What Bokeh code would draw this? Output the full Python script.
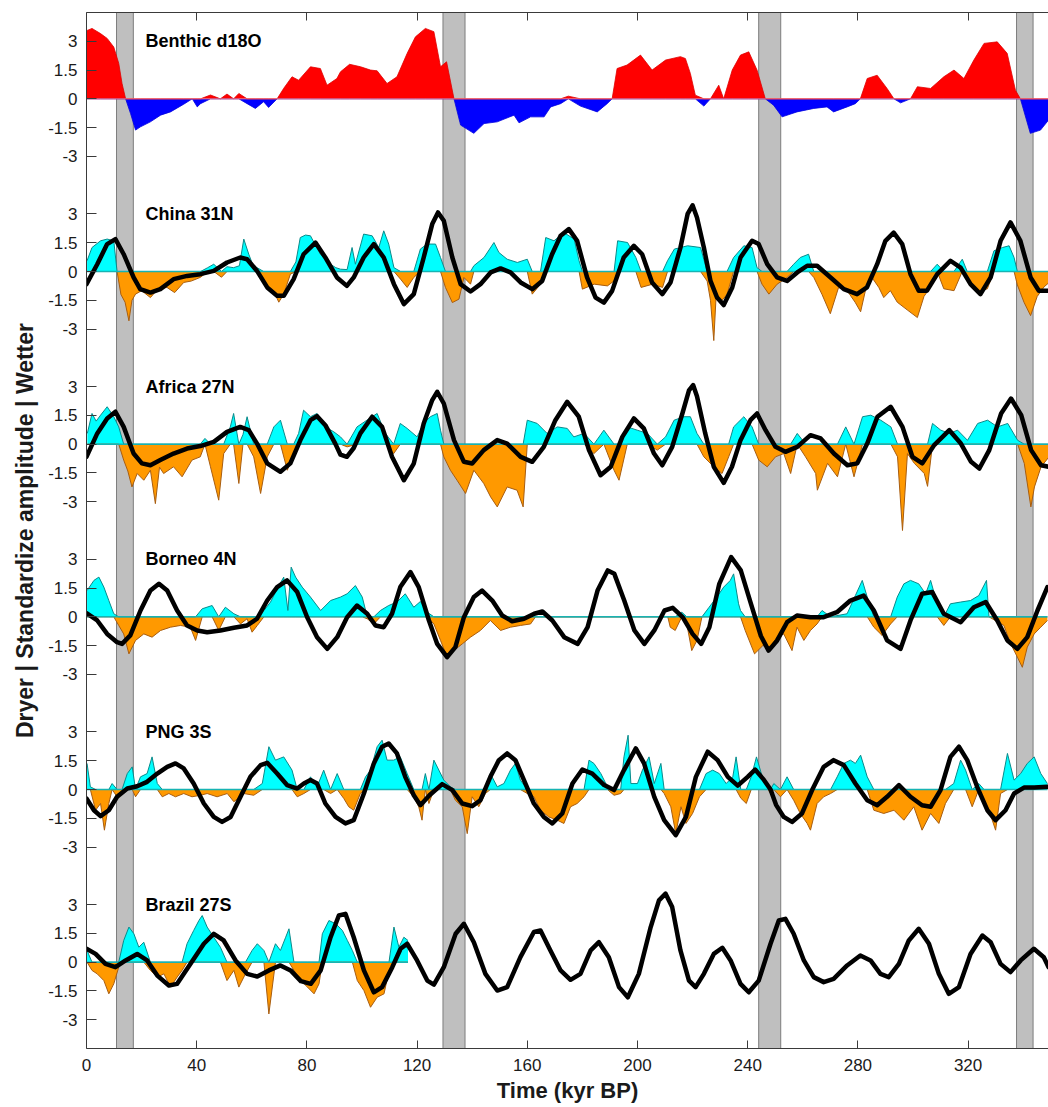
import numpy as np
from bokeh.plotting import figure
from bokeh.models import Range1d, FixedTicker, LinearAxis, BoxAnnotation, Label, CustomLabelingPolicy
from bokeh.embed import file_html
from bokeh.resources import INLINE

# ---------------- data ----------------
x_ticks = [0, 40, 80, 120, 160, 200, 240, 280, 320]
y_tick_local = [-3, -1.5, 0, 1.5, 3]
y_tick_text = ["-3", "-1.5", "0", "1.5", "3"]
panel_names = ["Benthic d18O", "China 31N", "Africa 27N", "Borneo 4N", "PNG 3S", "Brazil 27S"]
panel_offsets = [45, 36, 27, 18, 9, 0]
band_start = [10.9, 129.4, 244.0, 337.6]
band_end = [17.0, 137.4, 252.0, 343.6]

benthic = [(0, 3.55), (2.0, 3.67), (5.1, 3.4), (7.5, 3.15), (9.9, 2.7), (11.7, 1.85), (12.9, 0.8), (14.2, 0),
    (16.0, -0.77), (17.8, -1.63), (19.6, -1.46), (23.2, -1.2), (26.9, -0.85), (30.5, -0.68), (35.3, -0.28),
    (38.4, 0.0), (40.2, -0.42), (41.4, -0.25), (45, 0.2), (48.6, 0), (51, 0.25), (53.4, 0), (55.3, 0.28),
    (58.3, -0.25), (61.3, -0.5), (64.3, -0.15), (66.1, -0.45), (69.2, 0), (71.6, 0.55), (74.6, 1.15), (77, 0.97),
    (81.3, 1.67), (84.9, 1.58), (87.3, 0.71), (90.9, 1.06), (92.2, 1.41), (95.5, 1.8), (99.5, 1.67), (103.1, 1.5),
    (105.5, 1.46), (109.1, 0.8), (112.7, 1.15), (116.4, 2.37), (119.4, 3.23), (123, 3.67), (126.1, 3.5),
    (128.5, 1.67), (130.7, 1.93), (133.4, 0), (135.8, -1.37), (140.6, -1.8), (144.3, -1.29), (149.1, -1.2),
    (155.2, -0.85), (157, -1.25), (161.2, -0.94), (166.1, -0.94), (168.5, -0.42), (172.1, -0.25), (174.9, 0.14),
    (179.3, -0.38), (185.4, -0.68), (189, -0.25), (190.8, 0), (192.6, 1.58), (196.2, 1.76), (201.1, 2.28),
    (205.3, 1.5), (210.2, 2.02), (215.6, 2.2), (217.4, 2.1), (219.2, 1.32), (221, 0.19), (224.1, -0.38), (226.5, 0),
    (229.5, 0.71), (231.3, 0), (234.4, 1.5), (237.4, 2.28), (240.4, 2.45), (243.4, 1.5), (246.4, 0),
    (249.4, -0.33), (252.5, -0.94), (257.9, -0.68), (264, -0.5), (268.8, -0.42), (271.2, -0.68), (276.1, -0.42),
    (279.1, -0.25), (280.9, 0), (283.4, 1.06), (287, 1.23), (290.6, 0.54), (293.1, 0), (295.5, -0.21), (299.1, 0),
    (301.6, 0.63), (306.4, 0.54), (311.2, 1.15), (314.9, 1.5), (318.5, 1.06), (322.1, 2.02), (325.8, 2.89),
    (330.6, 2.97), (334.2, 2.37), (337.2, 0.45), (339, 0), (342.6, -1.8), (346.3, -1.63), (349.2, -1.11)]

china_rec = [(0.2, 0.56), (2.0, 1.25), (5.1, 1.6), (7.5, 1.69), (9.9, 1.6), (11.1, 0.0), (12.5, -1.2), (14.0, -1.6),
    (15.4, -2.57), (16.5, -1.5), (17.8, -1.18), (20.0, -1.0), (23.2, -1.36), (26.0, -0.9), (29.2, -0.83),
    (32.0, -1.1), (35.3, -0.57), (38.0, -0.5), (41.4, -0.3), (44.0, 0.2), (46.2, 0.38), (49.0, -0.3), (51.0, 0.25),
    (53.4, 0.2), (55.5, 0.3), (57.1, 1.69), (58.9, 0.9), (60.5, 0.3), (61.9, 0.2), (64.3, -0.4), (66.0, -0.8),
    (67.9, -1.0), (69.8, -1.6), (71.6, -1.18), (74.0, -0.14), (76.0, 0.5), (77.6, 1.77), (79.5, 1.9), (81.3, 1.86),
    (83.0, 1.4), (84.9, 0.9), (88.5, 0.38), (90.5, 0.2), (92.2, 0.12), (94.6, 0.1), (96.4, 1.25), (97.6, 0.38),
    (100.6, 1.95), (103.7, 1.86), (106.1, 1.25), (107.9, 2.12), (109.7, 1.43), (111.6, 0.2), (114, -0.4),
    (116.4, -0.83), (118.8, -0.31), (121.2, 1.17), (123.6, 1.43), (126.7, 1.43), (128.5, 0.73), (130.3, -0.83),
    (132.8, -1.62), (135.2, -1.44), (137, -0.31), (139.4, -0.66), (140.6, 0.3), (144.3, 0.73), (147.9, 1.51),
    (149.7, 0.99), (152.7, 0.64), (156.4, 0.47), (160, 0.64), (161.8, -1.18), (164.8, -0.66), (166.7, 1.77),
    (169.7, 1.6), (173.3, 2.03), (177, 1.69), (178.8, 0.56), (180, -0.92), (184.3, -0.66), (189.1, -0.75),
    (191.5, -0.49), (192.8, 1.6), (196.4, 1.51), (199.4, 0.73), (201.3, -0.83), (205.5, -0.66), (209.1, -0.83),
    (210.9, 0.56), (213.4, 1.17), (218.2, 1.34), (222.9, 1.25), (225.3, -0.5), (226.5, -1.5), (227.7, -3.6),
    (228.5, -1.4), (230.1, -1.6), (232.5, -1.2), (234.9, 0.73), (238.6, 1.34), (241.6, 1.25), (243.4, 0.2),
    (245.2, -0.66), (247.7, -1.18), (250.7, -0.66), (254.3, -0.31), (256.7, 0.38), (259.1, 0.73), (262.1, 0.9),
    (264, -0.31), (267, -1.2), (270, -2.2), (273, -0.83), (276.1, -1.0), (279, -1.6), (281, -2.1), (283, -0.83),
    (285.1, -0.31), (287.6, -0.83), (289.4, -1.36), (291.8, -1.0), (294.3, -1.6), (297.9, -2.0), (301.6, -2.4),
    (304, -1.3), (306.4, -0.8), (308.8, 0.38), (311.2, -0.9), (314.9, -1.0), (317.9, 0.64), (319.7, -0.5),
    (323.4, -1.1), (327, -0.9), (329.4, 1.08), (332.5, 1.25), (334.9, 1.34), (336.7, 0.73), (337.9, -0.7),
    (340.3, -1.6), (342.7, -2.3), (345.1, -1.3), (347.6, -0.8), (349.2, -0.6)]

china_fit = [(0, -0.66), (3.9, 0.38), (7.5, 1.43), (10.5, 1.69), (13.5, 0.9), (17.1, -0.31), (19.5, -0.92),
    (23.2, -1.1), (26.8, -0.92), (31.6, -0.4), (36.5, -0.23), (41.3, -0.14), (46.2, 0.03), (51, 0.47), (55.8, 0.73),
    (58.3, 0.64), (61.9, 0.03), (65.6, -0.83), (69.2, -1.27), (71.6, -1.27), (75.2, -0.4), (78.8, 0.9), (83.1, 1.51),
    (86.7, 0.73), (90.9, -0.31), (94.5, -0.75), (97.0, -0.31), (100.6, 0.73), (104.3, 1.43), (107.9, 0.73),
    (111.6, -0.66), (115.2, -1.7), (118.8, -1.18), (122.4, 0.73), (125.5, 2.47), (127.6, 3.08), (129.7, 2.64),
    (132.8, 0.73), (135.8, -0.66), (139.4, -1.04), (143.0, -0.66), (146.7, -0.05), (150.3, 0.16), (153.9, -0.05),
    (157.6, -0.57), (161.8, -0.92), (165.4, -0.49), (169, 0.9), (172.1, 1.86), (175.1, 2.21), (178.1, 1.6),
    (181.7, -0.31), (184.8, -1.36), (187.8, -1.62), (190.8, -1.01), (195, 0.73), (198.7, 1.34), (201.7, 0.9),
    (205.3, -0.57), (209, -1.18), (212, -0.57), (215.6, 1.25), (218.2, 3.0), (220, 3.45), (221.6, 2.82),
    (224.1, 1.25), (226.5, -0.49), (228.9, -1.36), (231.3, -1.75), (234.4, -0.83), (237.4, 0.73), (241.6, 1.6),
    (244, 1.43), (247.1, 0.38), (250.7, -0.31), (254.3, -0.49), (258, -0.05), (261.6, 0.3), (265.2, 0.3),
    (270.1, -0.31), (274.9, -0.92), (279.7, -1.18), (283.3, -0.83), (287, 0.38), (290, 1.6), (293, 2.03),
    (296.1, 1.43), (299.1, -0.14), (302.1, -1.0), (305.1, -1.0), (308.8, -0.14), (313.6, 0.56), (317.3, 0.2),
    (320.9, -0.66), (324.5, -1.18), (328.2, -0.31), (331.8, 1.6), (335.4, 2.56), (339, 1.6), (342.7, -0.31),
    (345.7, -1.0), (349.2, -1.0)]

africa_rec = [(0.3, 0.56), (2.0, 1.6), (3.5, 1.2), (5.1, 1.51), (7.5, 1.95), (9.9, 1.43), (11.7, 0.9), (13.5, -0.83),
    (15.0, -1.4), (16.5, -2.23), (18.4, -1.53), (20.8, -1.88), (23.2, -1.36), (25.0, -3.1), (26.5, -1.2),
    (28, -1.53), (31.6, -1.18), (34.7, -1.7), (38.3, -0.83), (41.3, -0.66), (43.0, 0.3), (45.0, -1.18),
    (48.0, -2.92), (49.8, -0.49), (52.2, 0.9), (53.4, 1.6), (55.3, -2.05), (56.8, 0.5), (58.3, 1.43),
    (60.7, -0.66), (63.2, -2.57), (65.6, -0.66), (68, 0.9), (70.4, 1.25), (72.9, -1.36), (75.2, -0.49), (77, 0.56),
    (78.8, 1.77), (81.3, 1.43), (83.7, 1.6), (86.7, 0.9), (89.8, 0.64), (92.2, 0.38), (94.6, -0.14), (98.2, 0.9),
    (101.8, 1.25), (105.5, 1.6), (108.5, 0.56), (111.5, -0.49), (113.9, 1.08), (116.4, 0.82), (120, 0.38),
    (122.4, 1.08), (124.8, 1.43), (127.3, 1.6), (128.5, 0.73), (129.7, -0.66), (132.1, -1.36), (134.5, -1.88),
    (137.6, -2.57), (140.6, -1.36), (144.2, -2.05), (146.7, -2.75), (149.1, -3.27), (152.7, -2.23), (156.3, -2.4),
    (158.5, -3.27), (160, 1.25), (163.6, 1.08), (167.2, 0.56), (170.9, 0.9), (174.5, 0.82), (176.9, 0.38),
    (180.6, 0.56), (184.2, -0.49), (187.8, 0.73), (191.5, -1.36), (193.3, -1.88), (196.3, 0.9), (199.9, 0.73),
    (203.6, 0.56), (207.2, -0.31), (210.2, 0.38), (213.3, 1.25), (216.9, 1.43), (219.2, 1.43), (221.6, 0.56),
    (224.1, -0.66), (227.7, -1.18), (230.7, -1.53), (233.1, -0.66), (234.9, 0.9), (238.6, 1.43), (241.6, 0.9),
    (244, -0.83), (247.1, -1.18), (250.1, -0.66), (253.1, -0.49), (255.6, -1.53), (258, 0.56), (261, -0.66),
    (264.7, -1.53), (265.3, -2.4), (269, -1.0), (272.6, -1.7), (275.6, 0.9), (278.6, -1.7), (281.7, 1.43),
    (284.7, 1.51), (288.3, 1.25), (292, 0.9), (294.4, -0.66), (296.2, -4.5), (298, -0.49), (300.5, -1.0),
    (304.1, -1.53), (305.3, -2.2), (307.1, 1.08), (310.1, 0.73), (313.2, 0.56), (316.2, 0.73), (319.8, 0.2),
    (323.5, 1.08), (327.1, 1.25), (330.7, 0.9), (334.4, 1.08), (338, 0.2), (340.4, -1.0), (342.8, -3.27),
    (344.1, -2.23), (346.5, -1.18), (349.4, -0.66)]

africa_fit = [(0, -0.66), (3.9, 0.56), (7.5, 1.34), (10.5, 1.69), (13.5, 0.9), (17.1, -0.49), (20.1, -1.0),
    (23.2, -1.1), (26.8, -0.83), (31.6, -0.49), (36.5, -0.23), (41.3, -0.1), (46.2, 0.12), (51, 0.64), (55.8, 0.9),
    (58.9, 0.73), (61.9, 0.03), (65.6, -1.0), (70.4, -1.44), (74, -1.0), (77.6, 0.2), (81.3, 1.25), (83.7, 1.46),
    (86.7, 0.99), (90.3, 0.03), (92.2, -0.55), (94.5, -0.66), (97, -0.2), (99.4, 0.56), (103.7, 1.43), (107.3, 0.9),
    (110.9, -0.66), (115.2, -1.88), (118.8, -1.01), (122.4, 1.08), (125.5, 2.3), (127.3, 2.73), (129.7, 2.12),
    (133.4, 0.21), (137, -0.92), (140, -1.01), (144.2, -0.31), (149.1, 0.21), (152.7, 0.03), (157.6, -0.66),
    (161.8, -0.92), (166, -0.14), (170.2, 1.25), (174.5, 2.21), (178.7, 1.43), (182.4, -0.31), (186.6, -1.62),
    (190.3, -1.18), (194.5, 0.38), (198.7, 1.34), (202.3, 0.82), (206, -0.49), (209, -1.1), (212.6, -0.14),
    (216.3, 1.6), (218.7, 2.8), (220.2, 3.08), (221.6, 2.5), (224.6, 0.56), (227.7, -1.18), (231.3, -2.02),
    (234.3, -1.18), (237.4, 0.21), (241, 1.25), (243.4, 1.6), (246.5, 0.73), (250.1, -0.14), (253.7, -0.4),
    (258, -0.14), (262.8, 0.47), (266.5, 0.3), (271.3, -0.49), (276.2, -1.1), (279.8, -1.0), (283.4, 0.03),
    (287.1, 1.43), (291.9, 1.95), (296.2, 0.9), (299.8, -0.66), (303.4, -1.0), (307.7, -0.05), (313.2, 0.73),
    (317.4, 0.03), (321.1, -0.92), (324.1, -1.27), (327.7, -0.31), (332, 1.6), (335.6, 2.38), (339.3, 1.51),
    (342.9, -0.31), (346.5, -1.1), (349.4, -1.18)]

borneo_rec = [(0.2, 1.37), (2.7, 1.9), (4.5, 2.07), (6.3, 1.55), (8.1, 0.85), (9.9, 0.16), (11.7, -0.45),
    (13.5, -0.89), (15.4, -1.93), (17.8, -1.23), (20.8, -0.89), (23.8, -1.06), (26.9, -0.71), (30.5, -0.54),
    (34.1, -0.45), (37.7, -0.54), (39.6, -1.23), (42, 0.42), (45.6, 0.59), (48, -0.71), (50.4, 0.5), (53.5, 0.16),
    (55.9, -0.37), (58.3, -0.1), (60.1, -0.8), (62, -0.45), (64.4, 0.33), (66.8, 0.77), (69.2, 1.46), (71.6, 2.07),
    (73.1, 0.33), (74.3, 2.59), (75.9, 2.07), (78.3, 1.55), (81.3, 1.03), (85, 0.33), (88.6, 0.85), (92.2, 1.03),
    (94.6, 1.2), (97.6, 1.63), (100.1, 1.03), (101.9, -0.1), (104.3, -0.37), (106.7, 0.33), (109.7, 0.59),
    (112.7, 0.77), (115.7, 1.2), (118.8, 0.5), (121.2, 0.8), (123.7, 0.24), (126.1, -0.37), (128.5, -1.23),
    (130.9, -2.1), (133.3, -1.76), (136.4, -1.41), (139.4, -1.06), (143, -0.71), (146.6, -0.19), (150.3, -0.71),
    (153.9, -0.54), (157.5, -0.45), (161.2, -0.37), (163, 0), (211, 0), (211.9, -0.54), (213.7, -0.71),
    (216.1, 0.24), (217.9, -0.37), (219.7, -1.76), (221.6, -1.23), (223.4, 0), (226, 0.5), (228.8, 1.03),
    (231.3, 1.55), (233.7, 1.9), (234.9, 2.24), (236.7, 0.68), (237.4, 0.33), (239.1, -0.71), (242.5, -1.93),
    (245.5, -1.5), (248.3, -1.58), (250.7, -1.06), (253.1, -0.89), (256.1, -1.76), (257.9, -0.54), (260.4, -1.23),
    (262.8, -0.71), (265.2, -0.37), (267, 0.33), (270.1, 0), (276.1, 0.16), (279.1, 1.11), (281.6, 1.9),
    (283.4, 1.03), (285.8, -0.54), (288.8, -0.97), (291.9, -0.37), (294.3, 1.03), (296.7, 1.72), (299.1, 1.9),
    (302.1, 1.72), (304.6, 1.2), (306.4, 1.9), (308.8, 0.68), (311.2, -0.45), (313.6, 0.68), (317.3, 0.77),
    (320.9, 0.85), (323.9, 1.11), (326.7, 1.9), (327.6, 0), (333, -0.45), (335.5, -1.41), (337.9, -2.1),
    (339.7, -2.63), (341.5, -1.58), (344, -0.89), (346.4, -0.54), (348.8, -0.19)]

borneo_fit = [(0, 0.19), (3.9, -0.19), (7.5, -0.89), (11.1, -1.32), (12.9, -1.41), (15.9, -0.97), (19.6, 0.33),
    (23.2, 1.37), (26.3, 1.72), (29.3, 1.37), (32.9, 0.33), (36.5, -0.45), (40.2, -0.71), (43.8, -0.8),
    (48.6, -0.71), (53.5, -0.57), (58.3, -0.45), (61.9, -0.1), (65.6, 0.85), (69.2, 1.55), (72.8, 1.9),
    (76.5, 1.29), (80.1, -0.02), (83.7, -1.06), (87.4, -1.67), (91, -1.06), (94.6, -0.02), (98.2, 0.59),
    (101.9, 0.16), (104.9, -0.45), (107.9, -0.54), (110.9, 0.16), (113.9, 1.55), (117.6, 2.33), (120.6, 1.55),
    (124.3, -0.19), (127.3, -1.41), (130.9, -2.1), (133.9, -1.58), (137, -0.02), (140.6, 1.03), (143.6, 1.37),
    (147.3, 0.85), (150.9, 0.07), (154.5, -0.23), (158.8, -0.1), (162.5, 0.16), (165.5, 0.28), (169.1, -0.19),
    (173.4, -1.06), (178.3, -1.41), (181.9, -0.54), (185.5, 1.37), (189.2, 2.42), (191.6, 2.24), (195.2, 0.85),
    (198.9, -0.71), (202.5, -1.41), (206.1, -0.71), (209.8, 0.33), (212.8, 0.47), (216.4, -0.02), (220, -0.89),
    (223.1, -1.41), (226.1, -0.54), (229.7, 1.72), (234, 3.11), (237.5, 2.42), (241.2, 0.68), (244.8, -1.0),
    (247.6, -1.76), (250.7, -1.23), (254.3, -0.28), (257.9, 0.07), (262.8, -0.02), (267.6, -0.02), (272.4, 0.24),
    (277.3, 0.85), (282.1, 1.11), (285.8, 0.33), (290.6, -1.23), (295.5, -1.67), (299.1, -0.19), (303.3, 1.2),
    (307, 1.29), (311.2, 0.16), (317.3, -0.28), (322.1, 0.5), (326.4, 0.77), (330.6, -0.19), (334.3, -1.23),
    (337.9, -1.67), (341.5, -1.06), (345.2, 0.33), (348.8, 1.55)]

png_rec = [(0.2, 1.36), (1.4, 0.14), (3.3, -1.08), (5.1, -0.73), (6.5, -2.12), (8.1, -0.73), (9.3, 0.31),
    (11.1, -0.38), (12.9, -0.21), (14.8, 0.83), (16.6, 1.18), (17.8, -0.38), (19.6, 0.66), (22, 0.83), (23.8, 1.7),
    (25.7, 0.31), (27.5, -0.38), (29.9, -0.21), (32.3, -0.38), (35.3, -0.21), (38.3, -0.38), (41.4, -0.3),
    (43.8, -0.21), (47.4, -0.38), (51.1, -0.21), (53.5, -0.64), (57.1, -0.21), (60.7, -0.3), (63.8, 0.31),
    (66.2, 2.23), (68.6, 1.53), (71.6, 1.7), (74.6, 1.01), (76.5, -0.38), (78.9, -0.21), (81.3, 0.66), (83.7, 0.14),
    (86.1, 1.01), (88.6, -0.21), (91, 0.83), (93.4, -0.47), (95.2, -0.9), (97, -1.08), (99.4, -0.21), (101.3, 0.66),
    (103.1, 1.01), (105.5, 2.23), (107.3, 2.57), (109.1, 1.53), (111.5, 1.53), (113.9, 1.7), (116.4, 0.83),
    (118.8, -0.38), (120.6, -0.9), (121.8, -1.6), (123.0, 0.83), (124.3, -0.73), (126.1, 1.53), (127.9, 1.01),
    (129.7, 0.49), (132.1, 0.14), (133.9, -0.56), (136.4, -0.9), (138.2, -2.3), (140, -0.38), (142.4, -0.9),
    (144.8, -0.21), (146.6, 0.83), (149.1, 0.14), (151.5, 0.31), (153.9, 1.01), (155.7, 1.36), (157.5, 0.49),
    (160, -0.21), (162.4, -0.38), (164.8, -1.08), (167.8, -1.43), (170.9, -1.6), (173.3, -1.77), (175.7, -0.9),
    (178.1, -0.73), (180.6, -0.38), (182.4, 1.53), (184.2, 1.36), (186.7, 0.83), (189.1, 0.14), (191.5, -0.3),
    (193.9, -0.21), (195.1, 1.7), (196.6, 2.83), (197.6, 0.31), (200, 0.31), (201.8, 1.01), (204.2, 1.7),
    (206.1, 0.31), (208.5, 1.36), (209.7, -0.21), (212.1, -0.9), (213.9, -2.3), (215.8, -0.9), (217.6, -1.77),
    (220, -1.25), (222.5, -0.38), (224.9, 0.83), (227.3, 1.01), (229.7, 0.83), (232.2, 0.31), (234.6, 0.66),
    (235.8, 1.7), (237.5, -0.45), (239.5, -0.73), (241.3, 0.66), (243.2, 1.7), (245.3, 0.66), (247.4, 0.31),
    (248.3, -0.21), (249.5, 0.31), (251.9, -0.38), (254.3, 0.66), (256.7, -0.56), (259.1, -1.25), (261.6, -1.77),
    (262.8, -2.12), (265.2, -0.73), (267.6, -0.38), (270.1, -0.21), (272.5, 0.66), (274.9, 1.36), (277.3, 1.53),
    (279.1, 1.36), (281, 1.79), (283.4, 0.66), (285.8, -1.08), (289.4, -1.25), (293.1, -1.08), (296.7, -1.6),
    (300.3, -0.9), (303.3, -2.12), (306.4, -1.25), (309.4, -1.77), (311.8, -0.73), (314.8, 0.31), (317.3, 1.53),
    (319.1, 1.01), (321.5, -0.9), (323.9, 0.31), (325.8, -0.56), (327.6, -1.08), (330, -2.12), (331.8, -0.21),
    (334.3, 1.88), (336.7, 0.49), (339.1, 0.83), (341.5, 1.36), (344, 1.7), (346.4, 0.83), (348.8, 0.31)]

png_fit = [(0, -0.47), (2.7, -1.08), (5.1, -1.39), (8.1, -1.08), (11.1, -0.38), (14.8, 0.05), (18.4, 0.17),
    (22, 0.4), (25.7, 0.83), (29.3, 1.18), (32.3, 1.36), (35.3, 1.1), (38.9, 0.31), (42.6, -0.73), (46.2, -1.43),
    (49.2, -1.69), (52.3, -1.43), (55.9, -0.38), (59.5, 0.66), (63.2, 1.27), (65.6, 1.39), (69.2, 0.83),
    (72.8, 0.23), (76.5, 0.05), (78.9, 0.31), (81.3, 0.49), (83.7, 0.31), (86.7, -0.73), (90.4, -1.43), (94, -1.77),
    (97, -1.6), (100.7, -0.21), (104.3, 1.36), (107.3, 2.23), (109.7, 2.4), (112.7, 1.88), (115.7, 0.66),
    (118.8, -0.3), (121.2, -0.82), (124.5, -0.3), (129.1, 0.28), (132.8, -0.03), (136.4, -0.73), (140, -0.87),
    (143, -0.56), (146.6, 0.66), (149.7, 1.53), (152.7, 1.88), (155.7, 1.53), (158.8, 0.49), (162.4, -0.73),
    (166, -1.43), (169.1, -1.77), (172.7, -1.25), (176.4, 0.31), (180, 1.04), (183.6, 0.83), (187.9, 0.23),
    (191.5, -0.03), (195.1, 1.01), (199.4, 2.14), (202.4, 1.36), (206.1, -0.38), (209.7, -1.6), (213.9, -2.38),
    (217.6, -1.43), (221.2, 0.66), (225.5, 1.97), (229.1, 1.53), (232.8, 0.66), (236.4, 0.2), (240, 0.66),
    (242.7, 1.04), (245.9, 0.5), (248.3, 0.0), (250.3, -0.8), (253.1, -1.43), (256.1, -1.69), (259.7, -1.25),
    (263.4, -0.03), (267.6, 1.18), (271.2, 1.53), (274.9, 1.27), (279.1, 0.31), (283.4, -0.56), (287, -0.82),
    (290.6, -0.38), (294.9, 0.23), (299.1, -0.38), (303.3, -0.82), (306.4, -0.9), (310, -0.03), (313.6, 1.7),
    (316.7, 2.23), (319.7, 1.53), (323.3, 0.14), (327, -1.08), (330, -1.6), (333.6, -1.08), (336.7, -0.21),
    (340.3, 0.1), (344, 0.1), (348.8, 0.14)]

brazil_rec = [(0.2, 0.61), (2.0, -0.43), (3.9, -0.61), (6.3, -0.96), (8.1, -1.65), (9.9, -1.13), (11.7, -0.26),
    (13.5, 1.13), (15.4, 1.83), (17.2, 1.48), (19.0, 0.78), (20.8, 1.04), (23.2, -0.43), (25.7, -0.78),
    (28.1, -0.61), (30.5, -1.3), (32.9, -0.78), (34.7, -0.43), (36.5, 0.96), (38.9, 1.65), (40.8, 2.17),
    (42.0, 2.43), (43.8, 1.83), (46.2, 1.3), (48.6, 0.78), (51.0, -0.96), (53.5, -0.43), (55.3, -1.3),
    (57.7, -0.61), (60.1, 0.61), (62.0, 0.96), (64.4, 0.61), (66.2, -2.7), (68.6, 0.96), (70.4, 0.61), (72.3, 1.3),
    (73.5, 1.74), (75.3, -0.43), (77.8, -0.96), (80.2, -1.3), (82.6, -1.65), (84.4, -1.13), (85.6, 1.48),
    (88.0, 2.17), (90.5, 2.0), (92.9, 1.65), (94.7, 1.13), (96.5, 0.61), (98.3, -0.96), (100.7, -1.48),
    (103.1, -2.35), (105.5, -1.83), (108.0, -1.65), (109.8, -0.43), (111.6, 1.83), (113.4, 0.78), (115.2, 1.3),
    (116.7, 1.13)]

brazil_fit = [(0, 0.7), (3.3, 0.43), (6.9, -0.09), (10.5, -0.26), (14.2, 0.09), (18.4, 0.43), (22, 0.09),
    (25.7, -0.7), (29.9, -1.22), (32.9, -1.13), (37.7, -0.09), (42.6, 0.96), (46.2, 1.48), (49.8, 1.13),
    (54.1, 0.09), (58.3, -0.61), (62, -0.75), (66.2, -0.43), (70.4, -0.17), (74.1, -0.43), (77.8, -0.99),
    (81.4, -1.13), (85, -0.43), (88.6, 1.3), (91.6, 2.43), (94, 2.52), (97, 1.3), (100.7, -0.43), (104.3, -1.57),
    (107.3, -1.3), (111, -0.26), (114, 0.7), (116.4, 0.96), (120, 0.09), (123.7, -0.96), (126.1, -1.17),
    (129.7, -0.26), (134, 1.48), (137, 2.0), (140.6, 1.04), (144.8, -0.61), (149.1, -1.48), (152.7, -1.3),
    (157.5, 0.26), (162.4, 1.57), (164.8, 1.65), (168.4, 0.61), (172.1, -0.43), (175.7, -0.92), (179.3, -0.61),
    (183, 0.61), (186, 1.04), (189.6, 0.26), (193.3, -1.3), (196.5, -1.83), (200.5, -0.61), (204.8, 1.83),
    (207.8, 3.22), (210.2, 3.57), (212.6, 2.87), (215.6, 0.61), (218.7, -0.96), (221.1, -1.3), (224.1, -0.61),
    (227.7, 0.43), (230.8, 0.75), (233.8, 0.09), (237.4, -1.13), (240.4, -1.57), (244, -0.96), (248.3, 0.96),
    (251.3, 2.17), (253.7, 2.26), (256.7, 1.48), (260.4, 0.09), (264, -0.78), (267.6, -1.04), (271.2, -0.87),
    (276.1, -0.17), (280.9, 0.35), (284.6, 0.09), (288.2, -0.61), (291.2, -0.78), (294.9, -0.09), (298.5, 1.13),
    (302.1, 1.74), (305.8, 0.96), (309.4, -0.61), (313, -1.65), (316.7, -1.3), (320.9, 0.43), (325.2, 1.39),
    (328.2, 1.04), (331.8, -0.09), (335.4, -0.52), (339.1, 0.09), (343.9, 0.7), (347.5, 0.26), (349.2, -0.26)]

records = [china_rec, africa_rec, borneo_rec, png_rec, brazil_rec]
fits = [china_fit, africa_fit, borneo_fit, png_fit, brazil_fit]

# ---------------- styles ----------------
FONT = "Liberation Sans"
AX = "#3a3a3a"
TXT = "#1a1a1a"


def split(pairs):
    return np.array([a for a, b in pairs], dtype=float), np.array([b for a, b in pairs], dtype=float)


p = figure(width=1048, height=1107, x_range=Range1d(0, 349.2), y_range=Range1d(-4.5, 49.5),
           output_backend="svg", toolbar_location=None,
           min_border_left=86, min_border_right=0, min_border_top=12, min_border_bottom=59)
p.outline_line_color = None
p.grid.visible = False

for s, e in zip(band_start, band_end):
    p.add_layout(BoxAnnotation(left=s, right=e, fill_color="#bfbfbf", fill_alpha=1.0,
                               line_color="#7d7d7d", line_width=1, line_alpha=1.0, level="underlay"))

# benthic panel
o = panel_offsets[0]
t, v = split(benthic)
p.varea(x=t, y1=o, y2=o + np.maximum(v, 0), fill_color="#ff0000")
p.varea(x=t, y1=o, y2=o + np.minimum(v, 0), fill_color="#0000ff")
p.line(t, o + np.maximum(v, 0), line_color="#e00000", line_width=0.8)
p.line(t, o + np.minimum(v, 0), line_color="#0000e0", line_width=0.8)
p.line([t[0], t[-1]], [o, o], line_color="#ff7070", line_width=1)

# hydroclimate records
for rec, o in zip(records, panel_offsets[1:]):
    t, v = split(rec)
    pos = o + np.maximum(v, 0)
    neg = o + np.minimum(v, 0)
    p.varea(x=t, y1=o, y2=pos, fill_color="#00ffff")
    p.varea(x=t, y1=o, y2=neg, fill_color="#ff9900")
    p.line(t, pos, line_color="#0a8a8a", line_width=1)
    p.line(t, neg, line_color="#a85d10", line_width=1)
    p.line([t[0], t[-1]], [o, o], line_color="#17b3b3", line_width=1.5)

for fit, o in zip(fits, panel_offsets[1:]):
    t, v = split(fit)
    p.line(t, o + v, line_color="black", line_width=4.5, line_join="round", line_cap="round")

for name, o in zip(panel_names, panel_offsets):
    p.add_layout(Label(x=21.4, y=o + 3.0, text=name, text_font=FONT, text_font_style="bold",
                       text_font_size="18px", text_color="black", text_baseline="alphabetic"))

# axes
yt = [o + d for o in panel_offsets for d in y_tick_local]
overrides = {float(o + d): lab for o in panel_offsets for d, lab in zip(y_tick_local, y_tick_text)}
ya = p.yaxis[0]
ya.ticker = FixedTicker(ticks=yt)
ya.major_label_overrides = overrides
ya.minor_tick_line_color = None
ya.major_tick_in = 10
ya.major_tick_out = 0
ya.major_label_standoff = 9
ya.axis_line_color = AX
ya.major_tick_line_color = AX
ya.major_label_text_font = FONT
ya.major_label_text_font_size = "17px"
ya.major_label_text_color = TXT
ya.axis_label = "Dryer | Standardize amplitude | Wetter"
ya.axis_label_text_font = FONT
ya.axis_label_text_font_style = "bold"
ya.axis_label_text_font_size = "23px"
ya.axis_label_text_color = TXT
ya.axis_label_standoff = 7

xa = p.xaxis[0]
xa.ticker = FixedTicker(ticks=x_ticks)
xa.minor_tick_line_color = None
xa.major_tick_in = 8
xa.major_tick_out = 0
xa.major_label_standoff = 10
xa.axis_line_color = AX
xa.major_tick_line_color = AX
xa.major_label_text_font = FONT
xa.major_label_text_font_size = "17px"
xa.major_label_text_color = TXT
xa.axis_label = "Time (kyr BP)"
xa.axis_label_text_font = FONT
xa.axis_label_text_font_style = "bold"
xa.axis_label_text_font_size = "22px"
xa.axis_label_text_color = TXT
xa.axis_label_standoff = 4

top = LinearAxis(ticker=FixedTicker(ticks=x_ticks), major_label_text_font_size="10px", major_label_standoff=0,
                 major_label_policy=CustomLabelingPolicy(code="for (const i of Array.from(indices)) indices.unset(i)"),
                 major_tick_in=8, major_tick_out=0, minor_tick_line_color=None,
                 axis_line_color=AX, major_tick_line_color=AX)
p.add_layout(top, "above")

open("out.html", "w").write(file_html(p, INLINE))
